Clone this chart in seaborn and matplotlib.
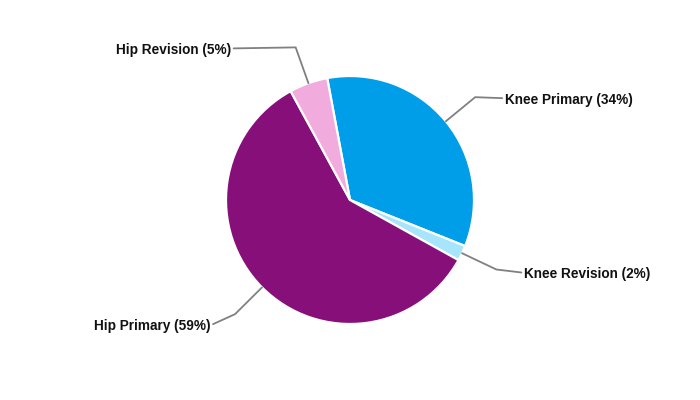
import numpy as np
import matplotlib
matplotlib.use("Agg")
import matplotlib.pyplot as plt
import seaborn as sns

# Share of joint procedures by type
categories = ["Knee Primary", "Knee Revision", "Hip Primary", "Hip Revision"]
shares = [34, 2, 59, 5]
colors = ["#009ee8", "#a6e5fb", "#870f79", "#f1acdd"]

# Label placement: horizontal run after the elbow (px), vertical drop of the run
run_dx = [27, 25, -22, -62]
run_dy = [-1, -3, -10, -1]

sns.set_theme(style="white")
plt.rcParams["font.family"] = ["Liberation Sans", "DejaVu Sans"]

W, H = 700, 400
fig = plt.figure(figsize=(W / 100, H / 100), dpi=100)
ax = fig.add_axes([0, 0, 1, 1])

cx, cy, R = 350, 200, 124
start = 100.6
wedges, _ = ax.pie(
    shares,
    colors=colors,
    startangle=start,
    counterclock=False,
    center=(cx, cy),
    radius=R,
    wedgeprops=dict(edgecolor="white", linewidth=1.6),
)
ax.set_xlim(0, W)
ax.set_ylim(0, H)
ax.set_aspect("equal")
ax.axis("off")

total = sum(shares)
for w, name, val, ddx, ddy in zip(wedges, categories, shares, run_dx, run_dy):
    mid = np.deg2rad((w.theta1 + w.theta2) / 2)
    x0, y0 = cx + R * np.cos(mid), cy + R * np.sin(mid)
    r1 = 162
    x1, y1 = cx + r1 * np.cos(mid), cy + r1 * np.sin(mid)
    x2, y2 = x1 + ddx, y1 + ddy
    ax.plot([x0, x1, x2], [y0, y1, y2], color="#808080", lw=1.3,
            solid_joinstyle="miter")
    ha = "left" if ddx > 0 else "right"
    tx = x2 + (3 if ddx > 0 else -3)
    ax.text(tx, y2 - 1.5, f"{name} ({val / total * 100:.0f}%)", ha=ha,
            va="center", fontsize=9.8, fontweight="bold", color="#111111")

fig.savefig("out.png", dpi=100, facecolor="white")
